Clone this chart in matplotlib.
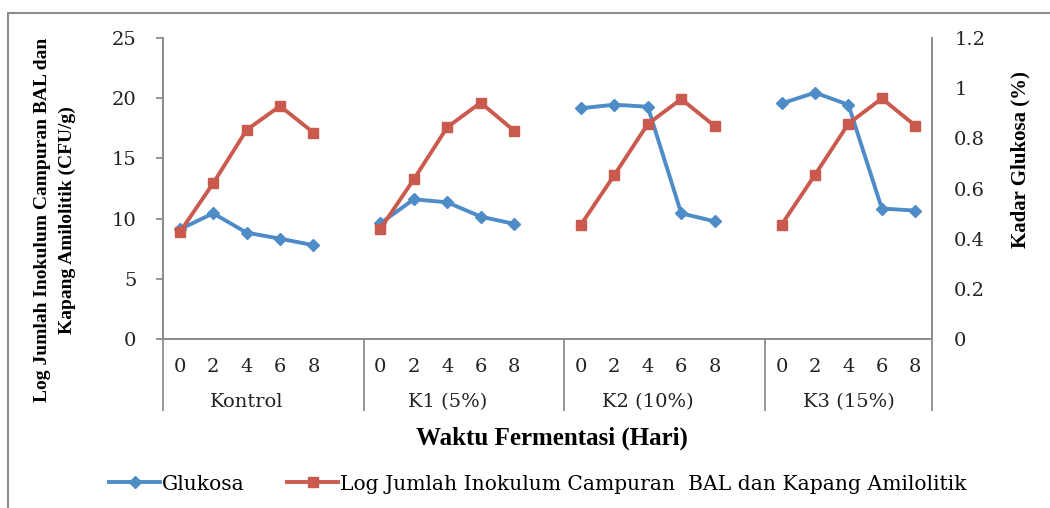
import numpy as np
import matplotlib.pyplot as plt
from matplotlib.patches import Rectangle
from matplotlib.lines import Line2D
import matplotlib.transforms as mtransforms

# Data: fermentation day for each treatment
days = [0, 2, 4, 6, 8]
groups = ['Kontrol', 'K1 (5%)', 'K2 (10%)', 'K3 (15%)']

# Glucose content (%) - right axis
glukosa = [[0.437, 0.501, 0.424, 0.400, 0.374],
           [0.461, 0.557, 0.545, 0.488, 0.459],
           [0.920, 0.934, 0.926, 0.501, 0.469],
           [0.939, 0.982, 0.934, 0.520, 0.512]]

# Log inoculum count (CFU/g) - left axis
log_inokulum = [[8.86, 12.93, 17.36, 19.35, 17.14],
                [9.14, 13.26, 17.58, 19.63, 17.30],
                [9.49, 13.62, 17.86, 19.93, 17.69],
                [9.49, 13.63, 17.88, 19.98, 17.72]]

blue = '#4E8CC8'
red = '#CB5A4E'
grey = '#8C8C8C'
tick_font = 'DejaVu Serif'
title_font = 'Liberation Serif'
fs = 14

fig = plt.figure(figsize=(10.5, 5.08), dpi=100)
ax = fig.add_axes([163/1050, 1 - 339/508, (932 - 163)/1050, (339 - 38)/508])
ax2 = ax.twinx()
ax.set_zorder(ax2.get_zorder() + 1)
ax.patch.set_visible(False)

# each group takes 6 category slots (5 days + 1 empty), the last has no empty slot
gap = len(days) + 1
for g in range(len(groups)):
    x = [g * gap + i for i in range(len(days))]
    ax2.plot(x, glukosa[g], color=blue, lw=2.8, marker='D', ms=6.5,
             solid_joinstyle='round')
    ax.plot(x, log_inokulum[g], color=red, lw=2.8, marker='s', ms=7.5,
            solid_joinstyle='round')

n_cat = gap * len(groups) - 1
ax.set_xlim(-0.5, n_cat - 0.5)
ax.set_ylim(0, 25)
ax.set_yticks([0, 5, 10, 15, 20, 25])
ax2.set_ylim(0, 1.2)
ax2.set_yticks([0, 0.2, 0.4, 0.6, 0.8, 1.0, 1.2])
ax2.set_yticklabels(['0', '0.2', '0.4', '0.6', '0.8', '1', '1.2'])

# day labels under each point
xt = [g * gap + i for g in range(len(groups)) for i in range(len(days))]
ax.set_xticks(xt)
ax.set_xticklabels([str(d) for g in groups for d in days])
ax.tick_params(axis='x', length=0, pad=14)

for a in (ax, ax2):
    for s in a.spines.values():
        s.set_color(grey)
        s.set_linewidth(1.3)
    a.spines['top'].set_visible(False)
    a.tick_params(axis='y', length=5, width=1.3, color=grey, pad=14)
    for lab in a.get_xticklabels() + a.get_yticklabels():
        lab.set_fontfamily(tick_font)
        lab.set_fontsize(fs)
        lab.set_color('#222222')
ax2.tick_params(axis='y', length=0, pad=16)

# group separators and group names below the axis
trans = mtransforms.blended_transform_factory(ax.transData, ax.transAxes)
for g in range(len(groups) + 1):
    xb = min(g * gap - 0.5, n_cat - 0.5)
    ax.plot([xb, xb], [0, -0.236], transform=trans, color=grey, lw=1.3,
            clip_on=False)
for g, name in enumerate(groups):
    ax.text(g * gap + 2, -0.21, name, transform=trans, ha='center',
            va='center', fontsize=fs, family=tick_font, color='#222222')

fig.text(552/1050, 1 - 438/508, 'Waktu Fermentasi (Hari)', ha='center',
         va='center', fontsize=18, fontweight='bold', family=title_font)
fig.text(55/1050, 1 - 220/508,
         'Log Jumlah Inokulum Campuran BAL dan\nKapang Amilolitik (CFU/g)',
         ha='center', va='center', rotation=90, fontsize=14,
         fontweight='bold', family=title_font, linespacing=1.6)
fig.text(1020/1050, 1 - 160/508, 'Kadar Glukosa (%)', ha='center',
         va='center', rotation=90, fontsize=15, fontweight='bold',
         family=title_font)

handles = [Line2D([], [], color=blue, lw=2.8, marker='D', ms=6.5),
           Line2D([], [], color=red, lw=2.8, marker='s', ms=7.5)]
fig.legend(handles, ['Glukosa',
                     'Log Jumlah Inokulum Campuran  BAL dan Kapang Amilolitik'],
           loc='center', bbox_to_anchor=(538/1050, 1 - 484/508), ncol=2,
           frameon=False, handlelength=2.5, handletextpad=0.1,
           columnspacing=2.1, prop={'family': tick_font, 'size': 14.6})

# outer chart frame
fig.patches.append(Rectangle((8/1050, -0.1), 1.2, 1 - 13/508 + 0.1,
                             transform=fig.transFigure, fill=False,
                             edgecolor=grey, lw=1.5))

fig.savefig('out.png', dpi=100)
